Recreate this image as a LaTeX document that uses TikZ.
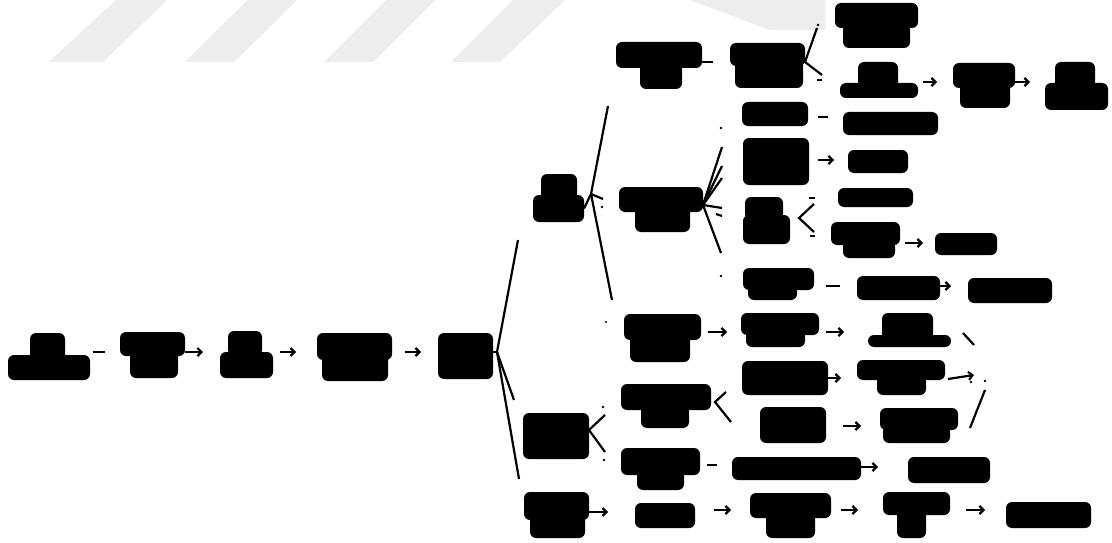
\documentclass[tikz,border=0pt]{standalone}
\usetikzlibrary{fit,arrows.meta}
\newcommand\blobnode[5]{\node[blob,fit={(#2,#3)(#4,#5)}] (#1) {};}
\newcommand\blobpart[4]{\fill[part] (#1,#2) rectangle (#3,#4);}
\begin{document}
\begin{tikzpicture}[x=1pt,y=-1pt,
  blob/.style={fill=black,draw=none,rounded corners=6pt,inner sep=0pt,outer sep=0pt},
  part/.style={fill=black,rounded corners=6pt},
  conn/.style={line width=2.2pt},
  arr/.style={conn,-{Straight Barb[length=4pt,width=8pt]}},
  wm/.style={fill=black!7},
  dot/.style={fill=black}]
\useasboundingbox[fill=white] (0,0) rectangle (1112,543);
% watermark
\fill[wm] (49,62) -- (103,62) -- (167,0) -- (116,0) -- cycle;
\fill[wm] (185,62) -- (234,62) -- (297,0) -- (248,0) -- cycle;
\fill[wm] (324,62) -- (373,62) -- (435,0) -- (386,0) -- cycle;
\fill[wm] (451,62) -- (500,62) -- (565,0) -- (513,0) -- cycle;
\fill[wm] (690,0) -- (770,30) -- (825,30) -- (825,0) -- cycle;
% chain
\blobnode{A1}{8}{355}{90}{380} \blobpart{30}{333}{65}{362}
\blobnode{A2}{120}{332}{185}{356} \blobpart{130}{350}{178}{378}
\blobnode{A3}{220}{352}{273}{378} \blobpart{228}{331}{262}{356}
\blobnode{A4}{317}{333}{392}{360} \blobpart{322}{355}{388}{381}
\blobnode{A5}{438}{333}{493}{379}
% level B
\blobnode{B1}{533}{195}{584}{222} \blobpart{541}{174}{577}{200}
\blobnode{B2}{523}{413}{589}{459}
\blobnode{B3}{524}{492}{589}{520} \blobpart{530}{515}{585}{538}
% level C
\blobnode{C1}{616}{42}{702}{68} \blobpart{640}{63}{682}{89}
\blobnode{C2}{619}{187}{703}{212} \blobpart{635}{205}{690}{232}
\blobnode{C3}{624}{314}{701}{340} \blobpart{630}{335}{690}{362}
\blobnode{C4}{621}{384}{711}{410} \blobpart{641}{405}{689}{428}
\blobnode{C5}{621}{448}{700}{475} \blobpart{637}{470}{684}{490}
% level D
\blobnode{D1}{730}{43}{805}{66} \blobpart{735}{60}{803}{88}
\blobnode{D2}{742}{102}{808}{126}
\blobnode{D3}{743}{138}{809}{185}
\blobnode{D4}{743}{215}{790}{244} \blobpart{745}{197}{783}{220}
\blobnode{D5}{743}{268}{814}{290} \blobpart{748}{285}{797}{300}
\blobnode{D6}{741}{313}{819}{335} \blobpart{746}{330}{805}{347}
\blobnode{D7}{742}{361}{828}{395}
\blobnode{D8}{760}{407}{826}{443}
\blobnode{D9}{732}{457}{861}{480}
\blobnode{D10}{635}{503}{695}{528}
\blobnode{D11}{750}{493}{831}{518} \blobpart{766}{513}{815}{538}
\blobnode{D12}{883}{492}{950}{515} \blobpart{897}{510}{926}{538}
% level E
\blobnode{E1}{835}{3}{918}{28} \blobpart{843}{23}{910}{48}
\blobnode{E2}{840}{83}{918}{98} \blobpart{858}{62}{898}{88}
\blobnode{E3}{843}{112}{938}{135}
\blobnode{E4}{848}{150}{908}{173}
\blobnode{E5}{838}{188}{913}{207}
\blobnode{E6}{831}{222}{900}{245} \blobpart{843}{240}{895}{258}
\blobnode{E7}{857}{276}{940}{300}
\blobnode{E8}{868}{335}{951}{347} \blobpart{882}{313}{933}{340}
\blobnode{E9}{857}{360}{945}{380} \blobpart{877}{375}{926}{395}
\blobnode{E10}{880}{408}{958}{430} \blobpart{883}{425}{950}{443}
\blobnode{E11}{908}{457}{990}{483}
\blobnode{E12}{1006}{502}{1091}{528}
% level F, G
\blobnode{F1}{953}{63}{1015}{88} \blobpart{960}{83}{1010}{108}
\blobnode{F2}{935}{233}{997}{255}
\blobnode{F3}{968}{278}{1052}{303}
\blobnode{G1}{1045}{83}{1108}{110} \blobpart{1055}{62}{1095}{88}
% chain connectors
\coordinate (e12) at (105,352); \draw[conn,shorten <=3pt] (A1.east|-e12) -- (e12);
\coordinate (e23) at (203,352); \draw[arr] (A2.east|-e23) -- (e23);
\coordinate (e34) at (296,352); \draw[arr,shorten <=7pt] (A3.east|-e34) -- (e34);
\coordinate (e45) at (421,352); \draw[arr,shorten <=13pt] (A4.east|-e45) -- (e45);
% A5 fan
\coordinate (fA) at (497,352);
\coordinate (tB1) at (518,240); \coordinate (tB2) at (514,400); \coordinate (tB3) at (519,479);
\draw[conn] (A5.east|-fA) -- (fA);
\draw[conn] (tB1) -- (fA) -- (tB2); \draw[conn] (fA) -- (tB3);
% B1 fan
\coordinate (fB1) at (591,194);
\coordinate (tC1) at (608,106); \coordinate (tC2) at (603,199); \coordinate (tC3) at (612,300);
\draw[conn] (B1.east) -- (fB1);
\draw[conn] (tC1) -- (fB1) -- (tC3); \draw[conn] (fB1) -- (tC2);
\fill[dot] (602,207) circle (1.4); \fill[dot] (606,322) circle (1.2);
% C1 -> D1
\coordinate (eC1) at (713,62); \draw[conn] (C1.east|-eC1) -- (eC1);
% D1 fan
\coordinate (fD1) at (805,62);
\coordinate (tE1) at (817,28); \coordinate (tE2) at (822,75);
\draw[conn] (tE1) -- (fD1) -- (tE2);
\fill[dot] (818,25) circle (1.3); \draw[conn] (817,80) -- (822,80);
\coordinate (eE2) at (937,82); \draw[arr,shorten <=5pt] (E2.east|-eE2) -- (eE2);
\coordinate (eF1) at (1030,82); \draw[arr] (F1.east|-eF1) -- (eF1);
% C2 fan
\coordinate (fC2) at (703,205);
\coordinate (t1) at (722,147); \coordinate (t2) at (722,166); \coordinate (t3) at (722,178);
\coordinate (t4) at (722,208); \coordinate (t5) at (721,253);
\draw[conn] (C2.east) -- (fC2);
\draw[conn] (t1) -- (fC2) -- (t5);
\draw[conn] (t2) -- (fC2) -- (t4);
\draw[conn] (fC2) -- (t3);
\fill[dot] (721,128) circle (1.3); \fill[dot] (721,276) circle (1.3);
\draw[conn] (716,214) -- (722,216);
% D level connectors
\coordinate (eD2) at (828,117); \draw[conn,shorten <=10pt] (D2.east|-eD2) -- (eD2);
\coordinate (eD3) at (834,160); \draw[arr,shorten <=9pt] (D3.east|-eD3) -- (eD3);
\coordinate (fD4) at (799,218);
\coordinate (tE5) at (814,204); \coordinate (tE6) at (814,232);
\draw[conn] (tE5) -- (fD4) -- (tE6);
\draw[conn] (809,198) -- (815,198); \draw[conn] (810,236) -- (815,236);
\coordinate (eE6) at (923,243); \draw[arr,shorten <=5pt] (E6.east|-eE6) -- (eE6);
\coordinate (eD5) at (840,286); \draw[conn,shorten <=12pt] (D5.east|-eD5) -- (eD5);
\coordinate (eE7) at (951,286); \draw[arr] (E7.east|-eE7) -- (eE7);
\coordinate (eC3) at (727,332); \draw[arr,shorten <=7pt] (C3.east|-eC3) -- (eC3);
\coordinate (eD6) at (844,332); \draw[arr,shorten <=7pt] (D6.east|-eD6) -- (eD6);
% junction
\coordinate (s8) at (963,333); \coordinate (j1) at (974,345);
\coordinate (s9) at (948,379); \coordinate (j2) at (974,375);
\coordinate (s10) at (970,428); \coordinate (j3) at (985,390);
\draw[conn] (s8) -- (j1);
\draw[arr] (s9) -- (j2);
\draw[conn] (s10) -- (j3);
\fill[dot] (985,381) circle (1.3); \fill[dot] (971,382) circle (1.3);
% B2 fan
\coordinate (fB2) at (589,430);
\coordinate (tC4) at (605,415); \coordinate (tC5) at (605,452);
\draw[conn] (tC4) -- (fB2) -- (tC5);
\fill[dot] (603,407) circle (1.3); \fill[dot] (604,460) circle (1.3);
% C4 fan
\coordinate (fC4) at (715,402);
\coordinate (tD7) at (726,392); \coordinate (tD8) at (731,422);
\draw[conn] (tD7) -- (fC4) -- (tD8);
\coordinate (eD7) at (841,378); \draw[arr] (D7.east|-eD7) -- (eD7);
\coordinate (eD8) at (861,426); \draw[arr,shorten <=17pt] (D8.east|-eD8) -- (eD8);
\coordinate (eC5) at (717,465); \draw[conn,shorten <=7pt] (C5.east|-eC5) -- (eC5);
\coordinate (eD9) at (878,467); \draw[arr] (D9.east|-eD9) -- (eD9);
\coordinate (eB3) at (608,512); \draw[arr] (B3.east|-eB3) -- (eB3);
\coordinate (eD10) at (731,510); \draw[arr,shorten <=19pt] (D10.east|-eD10) -- (eD10);
\coordinate (eD11) at (858,510); \draw[arr,shorten <=10pt] (D11.east|-eD11) -- (eD11);
\coordinate (eD12) at (985,510); \draw[arr,shorten <=16pt] (D12.east|-eD12) -- (eD12);
\end{tikzpicture}
\end{document}
